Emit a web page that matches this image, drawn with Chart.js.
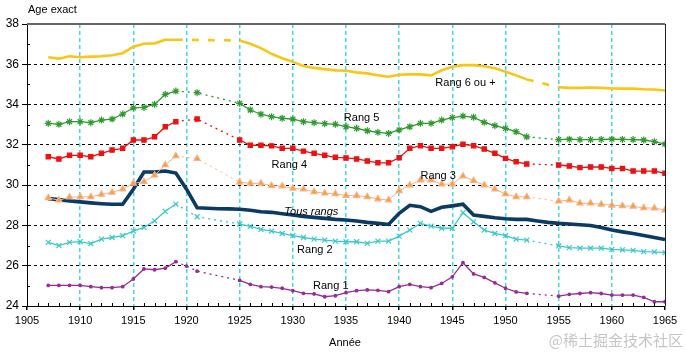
<!DOCTYPE html>
<html>
<head>
<meta charset="utf-8">
<script src="https://cdn.jsdelivr.net/npm/chart.js@4"></script>
<style>
  html, body { margin: 0; padding: 0; background: #fff; }
  #wrap { width: 686px; height: 352px; position: relative; }
</style>
</head>
<body>
<div id="wrap"><canvas id="ageChart" width="686" height="352"></canvas></div>
<script>
// Années 1907 à 1965 (null = année non renseignée)
const years = [];
for (let y = 1907; y <= 1965; y++) years.push(y);

const rang1 = [25.02, 25.02, 25.02, 25.02, 24.96, 24.91, 24.91, 24.96, 25.34, 25.84, 25.80, 25.88, 26.20,
  25.98, 25.73, null, null, null,
  25.27, 25.07, 24.96, 24.94, 24.88, 24.76, 24.63, 24.60, 24.46, 24.51, 24.66, 24.76, 24.80, 24.78, 24.71,
  24.96, 25.07, 24.96, 24.91, 25.12, 25.45, 26.15, 25.59, 25.42, 25.15, 24.88, 24.70, 24.63,
  null, null,
  24.49, 24.58, 24.62, 24.66, 24.62, 24.54, 24.54, 24.54, 24.43, 24.21, 24.21];

const rang2 = [27.16, 27.00, 27.16, 27.20, 27.10, 27.32, 27.40, 27.49, 27.72, 27.90, 28.23, 28.70, 29.06,
  null, 28.43, null, null, null,
  28.07, 27.95, 27.80, 27.72, 27.60, 27.49, 27.40, 27.32, 27.27, 27.22, 27.19, 27.19, 27.11, 27.22, 27.22,
  27.47, 27.77, 28.10, 27.97, 27.86, 27.86, 28.63, 28.18, 27.77, 27.60, 27.49, 27.32, 27.27,
  null, null,
  26.98, 26.90, 26.87, 26.87, 26.87, 26.81, 26.79, 26.76, 26.70, 26.69, 26.65];

const rang3 = [29.37, 29.25, 29.40, 29.42, 29.42, 29.54, 29.64, 29.80, 30.09, 30.17, 30.49, 31.00, 31.45,
  null, 31.31, null, null, null,
  30.14, 30.09, 30.09, 29.97, 29.95, 29.84, 29.80, 29.67, 29.60, 29.57, 29.48, 29.48, 29.42, 29.31, 29.26,
  29.72, 30.00, 30.25, 30.25, 30.05, 30.05, 30.45, 30.22, 30.00, 29.80, 29.56, 29.42, 29.42,
  null, null,
  29.20, 29.26, 29.10, 29.10, 29.05, 29.00, 28.97, 28.95, 28.87, 28.86, 28.76];

const rang4 = [31.41, 31.30, 31.48, 31.48, 31.41, 31.58, 31.74, 31.83, 32.24, 32.24, 32.40, 32.90, 33.15,
  null, 33.28, null, null, null,
  32.24, 31.98, 31.98, 31.95, 31.83, 31.83, 31.69, 31.58, 31.48, 31.38, 31.35, 31.30, 31.20, 31.11, 31.11,
  31.36, 31.83, 31.96, 31.83, 31.83, 31.91, 32.03, 31.96, 31.79, 31.58, 31.33, 31.16, 31.05,
  null, null,
  31.00, 30.95, 30.87, 30.90, 30.90, 30.83, 30.83, 30.70, 30.70, 30.70, 30.59];

const rang5 = [33.07, 33.02, 33.15, 33.15, 33.10, 33.23, 33.28, 33.53, 33.84, 33.86, 34.01, 34.51, 34.67,
  null, 34.59, null, null, null,
  34.06, 33.73, 33.52, 33.40, 33.32, 33.28, 33.15, 33.10, 33.05, 33.02, 32.90, 32.82, 32.70, 32.62, 32.57,
  32.74, 32.90, 33.07, 33.07, 33.23, 33.35, 33.43, 33.37, 33.12, 32.95, 32.82, 32.65, 32.40,
  null, null,
  32.26, 32.28, 32.26, 32.26, 32.27, 32.28, 32.27, 32.26, 32.24, 32.16, 32.04];

const rang6 = [36.35, 36.28, 36.40, 36.35, 36.38, 36.40, 36.45, 36.55, 36.87, 37.02, 37.04, 37.22, 37.22,
  null, null, null, null, null,
  37.18, 37.02, 36.80, 36.52, 36.30, 36.12, 35.92, 35.82, 35.76, 35.70, 35.68, 35.60, 35.55, 35.46, 35.38,
  35.48, 35.50, 35.50, 35.45, 35.70, 35.88, 35.96, 35.96, 35.90, 35.80, 35.63, 35.45, 35.25,
  null, null,
  34.86, 34.83, 34.83, 34.85, 34.83, 34.80, 34.79, 34.79, 34.76, 34.75, 34.70];

const tousRangs = [29.33, 29.28, 29.22, 29.17, 29.12, 29.08, 29.05, 29.05, 29.80, 30.65, 30.65, 30.70, 30.60,
  29.80, 28.88, 28.85, 28.83, 28.82,
  28.80, 28.75, 28.68, 28.65, 28.58, 28.52, 28.45, 28.40, 28.35, 28.30, 28.27, 28.22, 28.15, 28.10, 28.05,
  28.60, 29.00, 28.93, 28.70, 28.90, 28.97, 29.05, 28.52, 28.45, 28.38, 28.33, 28.30, 28.30,
  28.22, 28.15,
  28.10, 28.07, 28.03, 28.00, 27.90, 27.77, 27.68, 27.60, 27.50, 27.40, 27.30];

const xTicks = [1905, 1910, 1915, 1920, 1925, 1930, 1935, 1940, 1945, 1950, 1955, 1960, 1965];
const yTicks = [24, 26, 28, 30, 32, 34, 36, 38];

const FONT = '"Liberation Sans", Arial, sans-serif';

// années de guerre : tracé en pointillés
function inGap(ctx) {
    const a = ctx.p0.parsed.x, b = ctx.p1.parsed.x;
    return (a >= 1919 && b <= 1925) || (a >= 1952 && b <= 1955);
}

function toPoints(values) {
    return years.map((y, i) => ({ x: y, y: values[i] })).filter(p => p.y !== null);
}

function serie(label, values, color, extra) {
    return Object.assign({
        label: label,
        data: toPoints(values),
        borderColor: color,
        backgroundColor: color,
        borderWidth: 1.3,
        pointRadius: 3,
        pointBorderWidth: 1.2,
        tension: 0,
        segment: { borderDash: ctx => inGap(ctx) ? [2, 4] : undefined }
    }, extra || {});
}

// cadre, petites graduations et étiquettes des courbes
const decorPlugin = {
    id: 'decor',
    afterDraw(chart) {
        const { ctx, chartArea: a, scales: { x, y } } = chart;
        ctx.save();
        ctx.strokeStyle = '#000';
        ctx.lineWidth = 1;
        ctx.beginPath();
        for (let yr = 1906; yr < 1965; yr++) {
            if (yr % 5 === 0) continue;
            const px = Math.round(x.getPixelForValue(yr)) + 0.5;
            ctx.moveTo(px, a.bottom);
            ctx.lineTo(px, a.bottom - 3);
        }
        for (let v = 25; v < 38; v += 2) {
            const py = Math.round(y.getPixelForValue(v)) + 0.5;
            ctx.moveTo(a.left, py);
            ctx.lineTo(a.left + 3, py);
        }
        ctx.stroke();

        ctx.strokeStyle = '#666';
        ctx.lineWidth = 2;
        ctx.beginPath();
        ctx.moveTo(a.left, a.top);
        ctx.lineTo(a.right, a.top);
        ctx.stroke();
        ctx.strokeStyle = '#222';
        ctx.lineWidth = 1;
        ctx.beginPath();
        ctx.moveTo(a.right + 0.5, a.top);
        ctx.lineTo(a.right + 0.5, a.bottom);
        ctx.stroke();

        const labels = [
            ['Rang 6 ou +', 1943.4, 35.07, false],
            ['Rang 5', 1934.8, 33.33, false],
            ['Rang 4', 1928.0, 31.0, false],
            ['Rang 3', 1942.0, 30.45, false],
            ['Tous rangs', 1929.2, 28.67, true],
            ['Rang 2', 1930.4, 26.78, false],
            ['Rang 1', 1931.9, 24.99, false]
        ];
        ctx.fillStyle = '#000';
        ctx.textBaseline = 'middle';
        ctx.textAlign = 'left';
        labels.forEach(([t, lx, ly, it]) => {
            ctx.font = (it ? 'italic ' : '') + '11px ' + FONT;
            ctx.fillText(t, x.getPixelForValue(lx), y.getPixelForValue(ly));
        });

        ctx.font = '11px ' + FONT;
        ctx.fillText('Age exact', 28, 10);
        ctx.textAlign = 'center';
        ctx.fillText('Année', 345, 343);

        ctx.font = '15px "Noto Sans CJK SC", sans-serif';
        ctx.fillStyle = 'rgba(150,150,150,0.55)';
        ctx.textAlign = 'right';
        ctx.fillText('@稀土掘金技术社区', 683, 340);
        ctx.restore();
    }
};

const chart = new Chart(document.getElementById('ageChart'), {
    type: 'line',
    data: {
        datasets: [
            serie('Rang 1', rang1, '#9a2a9a', { pointRadius: 1.3, pointStyle: 'circle', borderWidth: 1.3 }),
            serie('Rang 2', rang2, '#3cc8cc', { pointStyle: 'crossRot', pointRadius: 3.5 }),
            serie('Rang 3', rang3, '#ff9f1a', { pointStyle: 'triangle', pointRadius: 3.5, borderColor: '#f7b08a', borderWidth: 1 }),
            serie('Rang 4', rang4, '#ee1111', { pointStyle: 'rect', pointRadius: 3 }),
            serie('Rang 5', rang5, '#2e9a2e', { pointStyle: 'star', pointRadius: 3.5 }),
            serie('Rang 6 ou +', rang6, '#f8c615', {
                pointRadius: 0, borderWidth: 2.6,
                segment: { borderDash: ctx => inGap(ctx) ? [7, 9] : undefined }
            }),
            serie('Tous rangs', tousRangs, '#0b3a66', { pointRadius: 0, borderWidth: 3.6, segment: {} })
        ]
    },
    options: {
        responsive: false,
        animation: false,
        events: [],
        layout: { padding: { top: 24, right: 21, left: 0, bottom: 0 } },
        plugins: { legend: { display: false }, tooltip: { enabled: false } },
        scales: {
            x: {
                type: 'linear',
                min: 1905,
                max: 1965,
                afterFit: s => { s.height = 46; },
                afterBuildTicks: s => { s.ticks = xTicks.map(v => ({ value: v })); },
                ticks: {
                    autoSkip: false, maxRotation: 0, color: '#000', padding: 4,
                    font: { size: 11, family: FONT },
                    callback: v => String(v)
                },
                grid: {
                    color: c => (c.tick && c.tick.value > 1905 && c.tick.value < 1965) ? '#3fdbe3' : 'rgba(0,0,0,0)',
                    lineWidth: 1.5,
                    tickColor: '#000',
                    tickLength: 4
                },
                border: { color: '#000', width: 1, dash: [4, 3] }
            },
            y: {
                min: 24,
                max: 38,
                afterFit: s => { s.width = 27; },
                afterBuildTicks: s => { s.ticks = yTicks.map(v => ({ value: v })); },
                ticks: { color: '#000', font: { size: 12, family: FONT }, padding: 3, callback: v => String(v) },
                grid: {
                    color: c => (c.tick && c.tick.value > 24 && c.tick.value < 38) ? '#000' : 'rgba(0,0,0,0)',
                    lineWidth: 1,
                    tickColor: '#000',
                    tickLength: 5
                },
                border: { color: '#000', width: 1, dash: [3, 3] }
            }
        }
    },
    plugins: [decorPlugin]
});
</script>
</body>
</html>
